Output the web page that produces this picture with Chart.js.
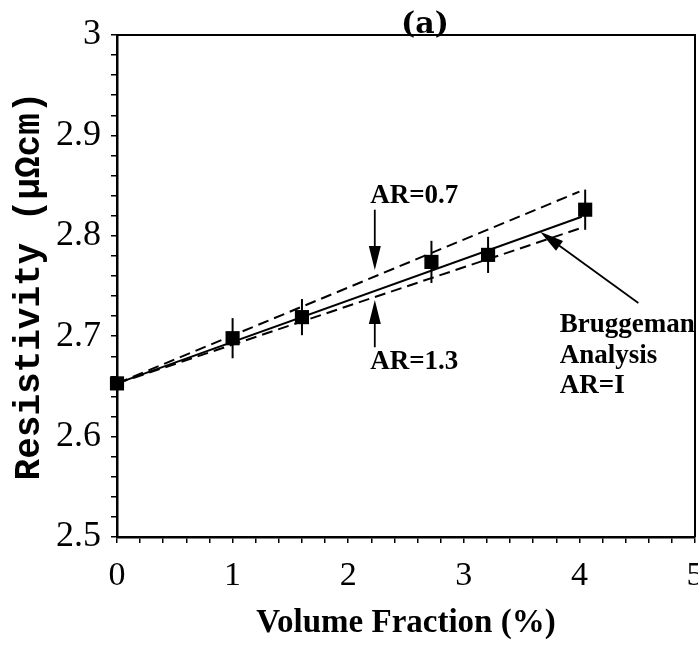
<!DOCTYPE html>
<html><head><meta charset="utf-8">
<script src="https://cdn.jsdelivr.net/npm/chart.js@4.4.0/dist/chart.umd.min.js"></script>
<style>html,body{margin:0;padding:0;background:#fff;overflow:hidden}
#wrap{width:705px;height:645px;position:relative}</style>
</head><body><div id="wrap"><canvas id="c"></canvas></div>
<script>
// ---- data ----
const volumeFraction = [0, 1.0, 1.6, 2.72, 3.21, 4.05];
const resistivity    = [2.653, 2.698, 2.719, 2.774, 2.781, 2.826];
const resistivityErr = [0, 0.02, 0.018, 0.021, 0.018, 0.02];

const lineAR1X  = [0, 4.02];
const lineAR1Y  = [2.653, 2.819];   // Bruggeman AR=1 (solid)
const lineAR07X = [0, 4.0];
const lineAR07Y = [2.653, 2.844];   // AR=0.7 (dashed)
const lineAR13X = [0, 4.02];
const lineAR13Y = [2.653, 2.808];   // AR=1.3 (dashed)

const xTickLabels = ['0', '1', '2', '3', '4', '5'];
const yTickLabels = ['2.5', '2.6', '2.7', '2.8', '2.9', '3'];
const X_MIN = 0, X_MAX = 5, X_MINOR = 0.2;
const Y_MIN = 2.5, Y_MAX = 3, Y_MINOR = 0.02;

const toPts = (xs, ys) => xs.map((x, i) => ({x: x, y: ys[i]}));

// annotation placement (data coordinates)
const notes = {
  texts: [
    {t: 'AR=0.7',    x: 2.19, y: 2.833},
    {t: 'AR=1.3',    x: 2.19, y: 2.667},
    {t: 'Bruggeman', x: 3.83, y: 2.704},
    {t: 'Analysis',  x: 3.83, y: 2.673},
    {t: 'AR=I',      x: 3.83, y: 2.643}
  ],
  arrows: [
    {x1: 2.23, y1: 2.826, x2: 2.23, y2: 2.766},
    {x1: 2.23, y1: 2.689, x2: 2.23, y2: 2.736},
    {x1: 4.51, y1: 2.733, x2: 3.66, y2: 2.804}
  ]
};

function buildTicks(min, max, step) {
  const out = [];
  const n = Math.round((max - min) / step);
  for (let i = 0; i <= n; i++) out.push({value: +(min + i * step).toFixed(6)});
  return out;
}

const framePlugin = {
  id: 'frame',
  afterDraw(chart) {
    const {ctx, chartArea: a} = chart;
    ctx.save();
    ctx.strokeStyle = '#000';
    ctx.lineWidth = 2;
    ctx.beginPath();
    ctx.moveTo(a.left, a.top); ctx.lineTo(a.right, a.top); ctx.lineTo(a.right, a.bottom);
    ctx.stroke();
    ctx.fillStyle = '#000';
    ctx.font = 'bold 30px "DejaVu Serif"';
    ctx.textAlign = 'center';
    ctx.textBaseline = 'alphabetic';
    ctx.fillText('(a)', 425, 33);
    ctx.restore();
  }
};

const errPlugin = {
  id: 'errbars',
  afterDatasetsDraw(chart) {
    const {ctx, scales: {x, y}} = chart;
    ctx.save();
    ctx.strokeStyle = '#000';
    ctx.lineWidth = 2;
    volumeFraction.forEach((v, i) => {
      const e = resistivityErr[i];
      if (!e) return;
      const px = x.getPixelForValue(v);
      ctx.beginPath();
      ctx.moveTo(px, y.getPixelForValue(resistivity[i] - e));
      ctx.lineTo(px, y.getPixelForValue(resistivity[i] + e));
      ctx.stroke();
    });
    ctx.restore();
  }
};

const notePlugin = {
  id: 'notes',
  afterDatasetsDraw(chart) {
    const {ctx, scales: {x, y}} = chart;
    ctx.save();
    ctx.fillStyle = '#000';
    ctx.strokeStyle = '#000';
    ctx.font = 'bold 27px "Liberation Serif"';
    ctx.textAlign = 'left';
    ctx.textBaseline = 'alphabetic';
    notes.texts.forEach(n => ctx.fillText(n.t, x.getPixelForValue(n.x), y.getPixelForValue(n.y)));
    notes.arrows.forEach(a => {
      const x1 = x.getPixelForValue(a.x1), y1 = y.getPixelForValue(a.y1);
      const x2 = x.getPixelForValue(a.x2), y2 = y.getPixelForValue(a.y2);
      const ang = Math.atan2(y2 - y1, x2 - x1);
      const hl = 24, hw = 6;
      ctx.lineWidth = 1.8;
      ctx.beginPath(); ctx.moveTo(x1, y1);
      ctx.lineTo(x2 - Math.cos(ang) * hl * 0.8, y2 - Math.sin(ang) * hl * 0.8); ctx.stroke();
      ctx.beginPath();
      ctx.moveTo(x2, y2);
      ctx.lineTo(x2 - Math.cos(ang) * hl + Math.sin(ang) * hw, y2 - Math.sin(ang) * hl - Math.cos(ang) * hw);
      ctx.lineTo(x2 - Math.cos(ang) * hl - Math.sin(ang) * hw, y2 - Math.sin(ang) * hl + Math.cos(ang) * hw);
      ctx.closePath(); ctx.fill();
    });
    ctx.restore();
  }
};

new Chart(document.getElementById('c'), {
  type: 'scatter',
  data: {
    datasets: [
      {label: 'Measured', data: toPts(volumeFraction, resistivity), showLine: false,
       pointStyle: 'rect', pointRadius: 10, pointHoverRadius: 10,
       backgroundColor: '#000', borderColor: '#000', borderWidth: 0, clip: false},
      {label: 'Bruggeman AR=1', data: toPts(lineAR1X, lineAR1Y), showLine: true,
       borderColor: '#000', borderWidth: 2, pointRadius: 0, clip: false},
      {label: 'AR=0.7', data: toPts(lineAR07X, lineAR07Y), showLine: true,
       borderColor: '#000', borderWidth: 2, borderDash: [11, 6], pointRadius: 0, clip: false},
      {label: 'AR=1.3', data: toPts(lineAR13X, lineAR13Y), showLine: true,
       borderColor: '#000', borderWidth: 2, borderDash: [11, 6], pointRadius: 0, clip: false}
    ]
  },
  options: {
    responsive: true,
    maintainAspectRatio: false,
    animation: false,
    events: [],
    layout: {padding: {left: 0, right: 3, top: 35, bottom: 0}},
    plugins: {legend: {display: false}, tooltip: {enabled: false}, title: {display: false}},
    scales: {
      x: {
        type: 'linear', min: X_MIN, max: X_MAX,
        afterBuildTicks: s => { s.ticks = buildTicks(X_MIN, X_MAX, X_MINOR); },
        afterFit: s => { s.height = 108; s.paddingLeft = 0; s.paddingRight = 0; },
        ticks: {
          autoSkip: false, maxRotation: 0, color: '#000', padding: 13,
          font: {family: '"Liberation Serif"', size: 34},
          callback: v => {
            const r = Math.round(v);
            return Math.abs(v - r) < 1e-6 ? xTickLabels[r - X_MIN] : '';
          }
        },
        grid: {display: true, drawOnChartArea: false, drawTicks: true, tickLength: 6, color: '#000', lineWidth: 1.5},
        border: {display: true, color: '#000', width: 2.5},
        title: {display: true, text: 'Volume Fraction (%)', color: '#000',
                font: {family: '"Liberation Serif"', size: 33, weight: 'bold'}, padding: {top: 0, bottom: 2}}
      },
      y: {
        type: 'linear', min: Y_MIN, max: Y_MAX,
        afterBuildTicks: s => { s.ticks = buildTicks(Y_MIN, Y_MAX, Y_MINOR); },
        afterFit: s => { s.width = 117; s.paddingTop = 0; s.paddingBottom = 0; },
        ticks: {
          autoSkip: false, color: '#000', padding: 10,
          font: {family: '"Liberation Serif"', size: 36},
          callback: v => {
            const k = (v - Y_MIN) * 10, r = Math.round(k);
            return Math.abs(k - r) < 1e-6 ? yTickLabels[r] : '';
          }
        },
        grid: {display: true, drawOnChartArea: false, drawTicks: true, tickLength: 6, color: '#000', lineWidth: 1.5},
        border: {display: true, color: '#000', width: 2.5},
        title: {display: true, text: 'Resistivity (μΩcm)', color: '#000',
                font: {family: '"Liberation Mono"', size: 36, weight: 'bold'}, padding: {top: 8, bottom: 0}}
      }
    }
  },
  plugins: [errPlugin, notePlugin, framePlugin]
});
</script>
</body></html>
